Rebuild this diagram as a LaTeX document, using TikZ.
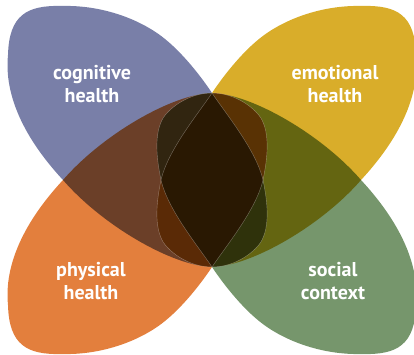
\documentclass[tikz,border=0pt]{standalone}
\usepackage{fontspec}
\setmainfont{PT Sans}

\definecolor{cogblue}{RGB}{121,127,168}
\definecolor{emoyellow}{RGB}{217,173,42}
\definecolor{physorange}{RGB}{227,127,61}
\definecolor{socgreen}{RGB}{118,150,108}

% its inner edge, where the petals cross
\newcommand{\petalseam}{(0,-87) .. controls (14,-66) and (44,-30) .. (51,0)
    .. controls (54,15) and (59,42) .. (50,60) .. controls (45,70) and (25,87) .. (0,87)}
% one petal, top-left one, relative to the middle of the picture
\newcommand{\petalpath}{\petalseam
    .. controls (-40,86) and (-110,45) .. (-149,0) .. controls (-188,-42) and (-208,-85) .. (-204,-125)
    .. controls (-203,-165) and (-185,-175) .. (-150,-174) .. controls (-115,-175) and (-80,-164) .. (-55,-147)
    .. controls (-33,-132) and (-12,-105) .. cycle}

\tikzset{
  label/.style={text=white, font=\bfseries\fontsize{20}{23}\selectfont, align=center, inner sep=0pt},
  seam/.style={draw=white, opacity=0.35, line width=0.4pt}
}

\begin{document}
\begin{tikzpicture}[x=1pt, y=-1pt]
    \useasboundingbox (0,0) rectangle (414,355);

    \begin{scope}[blend group=multiply]
        \fill[cogblue, shift={(212,180)}] \petalpath;
        \fill[emoyellow, shift={(212,180)}, xscale=-1] \petalpath;
        \fill[physorange, shift={(212,180)}, yscale=-1] \petalpath;
        \fill[socgreen, shift={(212,180)}, scale=-1] \petalpath;
    \end{scope}

    \path[seam, shift={(212,180)}] \petalseam;
    \path[seam, shift={(212,180)}, xscale=-1] \petalseam;
    \path[seam, shift={(212,180)}, yscale=-1] \petalseam;
    \path[seam, shift={(212,180)}, scale=-1] \petalseam;

    \node[label] (cog) at (92,84) {cognitive\\health};
    \node[label] (emo) at (335,84) {emotional\\health};
    \node[label] (phys) at (91,281) {physical\\health};
    \node[label] (soc) at (333,281) {social\\context};
\end{tikzpicture}
\end{document}
